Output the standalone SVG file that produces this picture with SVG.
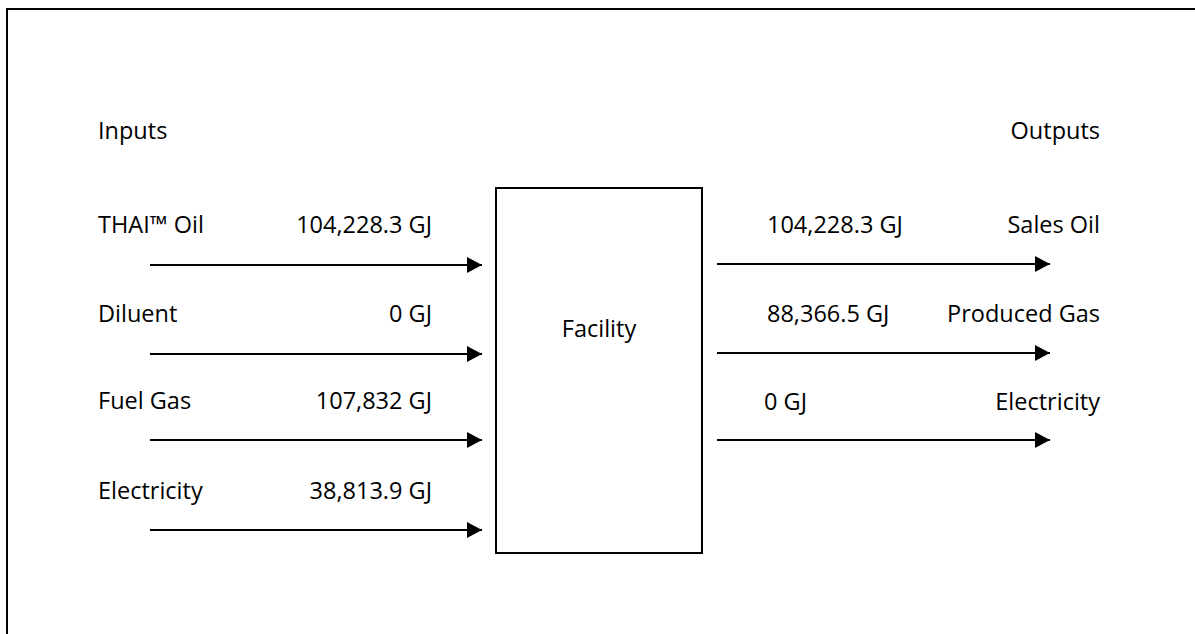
<svg xmlns="http://www.w3.org/2000/svg" width="1195" height="634" viewBox="0 0 1195 634">
<defs>
<marker id="ah" markerWidth="16" markerHeight="16" refX="15" refY="8" orient="auto" markerUnits="userSpaceOnUse">
<path d="M0,0 L15,8 L0,16 Z" fill="#000"/>
</marker>
<style>
text{font-family:"Open Sans","Liberation Sans",sans-serif;font-size:23.5px;fill:#000}
.r{text-anchor:end}
.c{text-anchor:middle}
.arr{stroke:#000;stroke-width:2;fill:none;marker-end:url(#ah)}
</style>
</defs>
<rect width="1195" height="634" fill="#fff"/>
<rect x="7" y="9" width="1300" height="700" fill="none" stroke="#000" stroke-width="2"/>
<g id="headers">
<text x="98" y="139">Inputs</text>
<text x="1100" y="139" class="r">Outputs</text>
</g>
<g id="facility">
<rect x="496" y="188" width="206" height="365" fill="none" stroke="#000" stroke-width="2"/>
<text x="599" y="337" class="c">Facility</text>
</g>
<g id="in-thai">
<text x="98" y="233">THAI™ Oil</text>
<text x="432" y="233" class="r">104,228.3 GJ</text>
</g>
<g id="in-diluent">
<text x="98" y="322">Diluent</text>
<text x="432" y="322" class="r">0 GJ</text>
</g>
<g id="in-fuelgas">
<text x="98" y="409">Fuel Gas</text>
<text x="432" y="409" class="r">107,832 GJ</text>
</g>
<g id="in-electricity">
<text x="98" y="499">Electricity</text>
<text x="432" y="499" class="r">38,813.9 GJ</text>
</g>
<g id="out-salesoil">
<text x="767" y="233">104,228.3 GJ</text>
<text x="1100" y="233" class="r">Sales Oil</text>
</g>
<g id="out-producedgas">
<text x="767" y="322">88,366.5 GJ</text>
<text x="1100" y="322" class="r">Produced Gas</text>
</g>
<g id="out-electricity">
<text x="764" y="410">0 GJ</text>
<text x="1100" y="410" class="r">Electricity</text>
</g>
<g id="connectors">
<line class="arr" x1="150" y1="265" x2="482" y2="265"/>
<line class="arr" x1="150" y1="354" x2="482" y2="354"/>
<line class="arr" x1="150" y1="440" x2="482" y2="440"/>
<line class="arr" x1="150" y1="530" x2="482" y2="530"/>
<line class="arr" x1="717" y1="264" x2="1050" y2="264"/>
<line class="arr" x1="717" y1="353" x2="1050" y2="353"/>
<line class="arr" x1="717" y1="440" x2="1050" y2="440"/>
</g>
</svg>
